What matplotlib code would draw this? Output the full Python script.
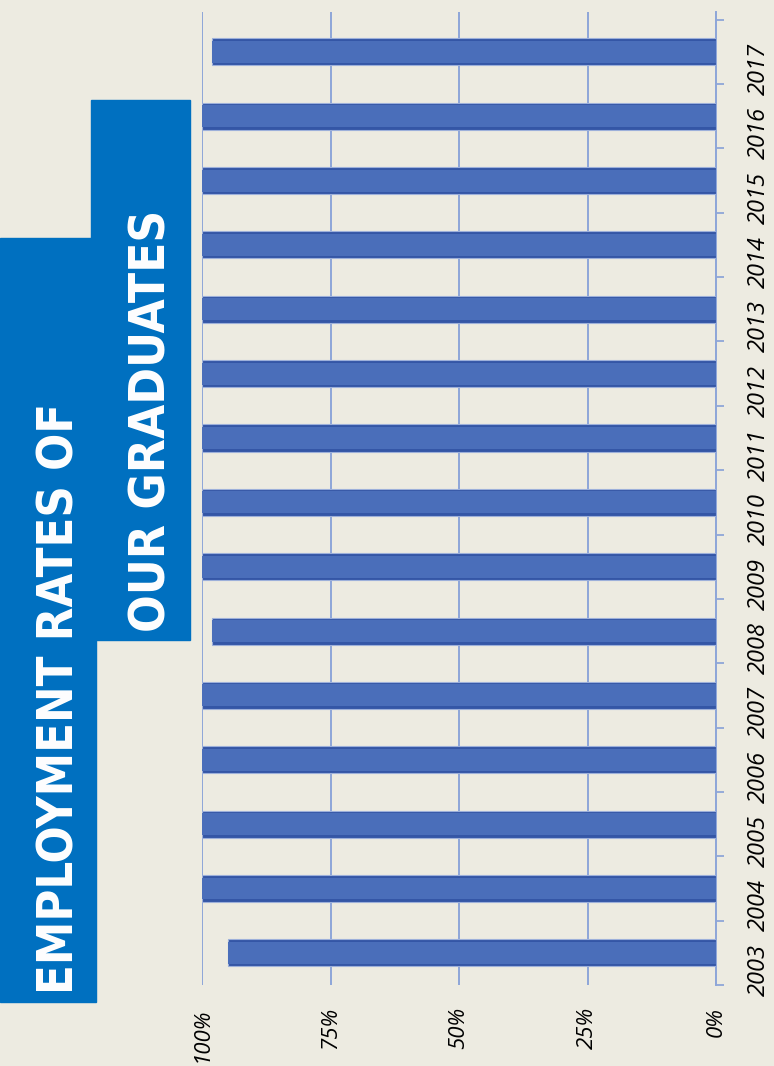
import matplotlib
matplotlib.use('Agg')
import matplotlib.pyplot as plt
from matplotlib.patches import Rectangle

# données
annees = ['2003', '2004', '2005', '2006', '2007', '2008', '2009', '2010',
          '2011', '2012', '2013', '2014', '2015', '2016', '2017']
taux = [95, 100, 100, 100, 100, 98, 100, 100, 100, 100, 100, 100, 100, 100, 98]
graduations = [0, 25, 50, 75, 100]
etiquettes_pct = ['0%', '25%', '50%', '75%', '100%']
titre_1 = 'EMPLOYMENT RATES OF'
titre_2 = 'OUR GRADUATES'

fond = '#EDEBE1'
bleu_titre = '#0070C0'
grille = '#8EA6D8'
W, H = 774, 1066

fig = plt.figure(figsize=(W / 100, H / 100), dpi=100, facecolor=fond)
ax = fig.add_axes([202 / W, (H - 985) / H, (716 - 202) / W, (985 - 12) / H])
ax.set_facecolor(fond)

pos = list(range(len(annees)))
ax.barh(pos, taux, height=0.42, color='#3456A6', edgecolor='#9DB0DA',
        linewidth=0.8, zorder=3)
ax.barh(pos, taux, height=0.34, color='#4A6EBA', zorder=4)

ax.set_xlim(100, 0)
ax.set_ylim(-0.5, 14.62)

# axe des années à droite
ax.yaxis.tick_right()
ax.set_yticks(pos, annees, rotation=90, fontstyle='italic', fontsize=17,
              family=['Open Sans', 'DejaVu Sans'])
ax.set_yticks([i + 0.5 for i in range(-1, len(annees))], minor=True)
ax.tick_params(axis='y', which='major', length=0, pad=22)
ax.tick_params(axis='y', which='minor', length=6, width=1.3, color=grille)

ax.set_xticks(graduations, etiquettes_pct, rotation=90, fontstyle='italic',
              fontsize=16, family=['Open Sans', 'DejaVu Sans'])
ax.tick_params(axis='x', length=0, pad=16)
ax.grid(axis='x', color=grille, linewidth=1.4, zorder=0)
ax.set_axisbelow(True)

for cote in ['top', 'bottom', 'left']:
    ax.spines[cote].set_visible(False)
ax.spines['right'].set_color(grille)
ax.spines['right'].set_linewidth(1.4)

# bandeaux du titre
fig.patches.append(Rectangle((0, (H - 1002) / H), 96 / W, (1002 - 238) / H,
                             transform=fig.transFigure, color=bleu_titre, zorder=5))
fig.patches.append(Rectangle((91 / W, (H - 640) / H), 99 / W, (640 - 100) / H,
                             transform=fig.transFigure, color=bleu_titre, zorder=5))
police_titre = ['DejaVu Sans']
fig.text(60 / W, 1 - 698 / H, titre_1, rotation=90, ha='center', va='center',
         color='white', fontsize=35, fontweight='bold', fontstretch='condensed',
         family=police_titre, zorder=6)
fig.text(151 / W, 1 - 421 / H, titre_2, rotation=90, ha='center', va='center',
         color='white', fontsize=35.5, fontweight='bold', fontstretch='condensed',
         family=police_titre, zorder=6)

fig.savefig('out.png', dpi=100, facecolor=fond)
